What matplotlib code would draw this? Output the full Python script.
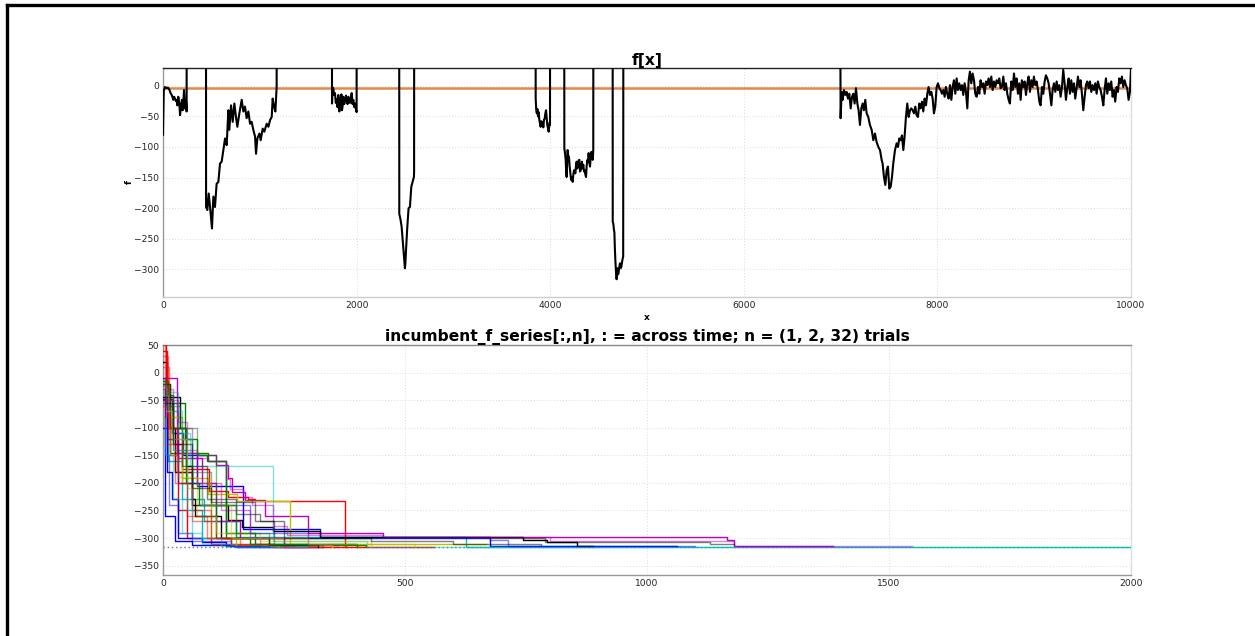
import numpy as np
import matplotlib
matplotlib.use("Agg")
import matplotlib.pyplot as plt
from matplotlib.lines import Line2D

# ---------------------------------------------------------------- data
# f[x] sampled along x; 200 marks the out-of-domain stretches (above the view)
f_valley_a = [(0, -80), (8, -8), (21, -2), (38, -4), (50, -3), (65, -6), (78, -12),
              (90, -15), (100, -20), (107, -23), (115, -18), (124, -21), (133, -25),
              (141, -23), (148, -32), (158, -18), (169, -29), (176, -48), (186, -34),
              (196, -23), (203, -40), (210, -28), (217, -7), (227, -37), (238, -26),
              (244, -42), (245, 200)]
f_valley_b = [(444, 200), (445, -198), (458, -203), (472, -176), (486, -198), (506, -233),
              (520, -181), (537, -198), (554, -160), (572, -157), (589, -127), (606, -124),
              (623, -105), (641, -86), (658, -97), (675, -40), (685, -72), (703, -32),
              (720, -59), (737, -29), (754, -51), (768, -67), (789, -45), (813, -23),
              (830, -42), (847, -34), (864, -53), (882, -42), (899, -62), (916, -59),
              (933, -72), (951, -83), (961, -111), (975, -86), (996, -78), (1009, -89),
              (1030, -70), (1047, -75), (1071, -62), (1089, -67), (1106, -56), (1123, -51),
              (1133, -21), (1147, -34), (1161, -42), (1174, -2), (1175, 200)]
f_valley_c = [(1745, 200), (1746, -29), (1752, -3), (1760, -5), (1768, -15), (1777, -12),
              (1785, -28), (1794, -22), (1803, -35), (1811, -15), (1822, -42), (1830, -20),
              (1836, -28), (1843, -14), (1849, -40), (1856, -33), (1863, -18), (1872, -30),
              (1880, -25), (1890, -16), (1898, -22), (1906, -30), (1915, -18), (1924, -25),
              (1932, -28), (1940, -22), (1949, -12), (1958, -30), (1966, -23), (1975, -35),
              (1984, -29), (1992, -38), (2000, -43), (2001, 200)]
f_valley_d = [(2440, 200), (2441, -209), (2453, -218), (2465, -230), (2482, -263),
              (2499, -298), (2504, -290), (2510, -270), (2524, -230), (2537, -200),
              (2551, -198), (2565, -165), (2579, -157), (2592, -149), (2594, -140),
              (2595, 200)]
f_valley_e = [(3849, 200), (3850, -21), (3856, -40), (3862, -45), (3868, -38), (3874, -50),
              (3880, -43), (3888, -56), (3895, -62), (3901, -67), (3908, -58), (3915, -65),
              (3922, -60), (3929, -68), (3936, -55), (3943, -54), (3950, -45), (3957, -40),
              (3964, -52), (3970, -64), (3977, -70), (3984, -75), (3990, -65), (3996, -60),
              (3998, -64), (3999, 200)]
f_valley_f = [(4145, 200), (4146, -102), (4153, -110), (4160, -121), (4165, -140),
              (4170, -149), (4175, -125), (4180, -105), (4187, -115), (4194, -116),
              (4200, -130), (4205, -138), (4212, -148), (4218, -154), (4225, -150),
              (4232, -157), (4239, -145), (4246, -138), (4253, -140), (4260, -143),
              (4266, -132), (4273, -124), (4280, -135), (4287, -129), (4294, -122),
              (4301, -121), (4308, -140), (4315, -138), (4322, -130), (4328, -124),
              (4335, -135), (4342, -129), (4349, -140), (4356, -138), (4363, -145),
              (4370, -149), (4377, -130), (4384, -121), (4390, -125), (4397, -110),
              (4404, -125), (4411, -132), (4418, -118), (4425, -108), (4432, -115),
              (4439, -121), (4445, -105), (4446, 200)]
f_valley_g = [(4645, 200), (4646, -222), (4652, -225), (4658, -235), (4663, -239),
              (4668, -265), (4673, -285), (4680, -305), (4686, -316), (4691, -306),
              (4697, -298), (4702, -308), (4707, -304), (4714, -296), (4721, -290),
              (4728, -298), (4735, -296), (4742, -288), (4749, -282), (4754, -279),
              (4756, 200)]
f_valley_h = [(6995, 200), (7000, -53), (7011, -10), (7021, -23), (7035, -7), (7049, -15),
              (7062, -10), (7076, -21), (7090, -13), (7104, -37), (7118, -18), (7131, -13),
              (7145, -29), (7159, -4), (7173, -29), (7186, -40), (7200, -64), (7214, -37),
              (7228, -29), (7241, -40), (7255, -23), (7269, -45), (7286, -51), (7303, -64),
              (7321, -72), (7338, -89), (7355, -78), (7372, -92), (7390, -100), (7407, -105),
              (7424, -121), (7434, -127), (7448, -149), (7462, -162), (7476, -138),
              (7489, -132), (7503, -168), (7517, -165), (7531, -149), (7544, -127),
              (7562, -105), (7579, -94), (7593, -100), (7606, -86), (7620, -89), (7634, -81),
              (7648, -105), (7661, -83), (7675, -51), (7689, -29), (7703, -51), (7717, -40),
              (7730, -37), (7744, -40), (7758, -45), (7772, -34), (7785, -48), (7799, -51),
              (7813, -29), (7827, -37), (7841, -26), (7854, -42), (7868, -21), (7882, -32),
              (7896, -13), (7909, -2), (7923, -15), (7937, -10), (7951, -21), (7964, -45),
              (7978, -34), (7992, -2), (8006, 4), (8020, -4), (8033, -7), (8047, -13),
              (8061, -7), (8075, -18), (8088, -2), (8102, -13), (8116, -21), (8130, 1),
              (8144, -23), (8157, -2), (8171, 9), (8185, -13), (8199, 12), (8212, -7),
              (8226, 4), (8240, -7), (8254, 1), (8267, -15), (8281, 4), (8295, -10),
              (8309, -37), (8323, 9), (8336, 23), (8350, 4), (8364, 20), (8378, 9),
              (8391, -13), (8405, -18), (8419, -2), (8433, -13), (8446, 9), (8460, -2),
              (8474, 4), (8488, -13), (8502, 7), (8515, 1), (8529, 12), (8543, -2),
              (8557, 15), (8570, -7), (8584, 7), (8598, -2), (8612, 9), (8626, 4),
              (8639, 12), (8653, -4), (8667, -2), (8681, 15), (8694, -7), (8708, 4),
              (8722, -13), (8736, -23), (8749, -29), (8763, 7), (8777, -7), (8791, 20),
              (8805, -2), (8818, 12), (8832, -13), (8846, 4), (8860, -23), (8873, 9),
              (8887, -2), (8901, 7), (8915, -15), (8929, 4), (8942, 15), (8956, -10),
              (8970, 9), (8984, -2), (8997, 15), (9011, 1), (9025, 7), (9039, -7),
              (9053, -26), (9066, -32), (9080, -2), (9094, -13), (9108, 7), (9121, 17),
              (9135, 12), (9149, 4), (9163, -13), (9177, -32), (9190, -7), (9204, 4),
              (9218, -10), (9232, 7), (9245, -7), (9259, 1), (9273, -18), (9287, -2),
              (9300, 26), (9314, 4), (9328, -23), (9342, -2), (9356, 12), (9369, -13),
              (9383, 9), (9397, -10), (9411, 4), (9424, -21), (9438, -4), (9452, 15),
              (9466, -2), (9479, 9), (9493, -13), (9507, -40), (9521, -18), (9535, 1),
              (9548, 7), (9562, -4), (9576, 7), (9590, -10), (9603, 1), (9617, -7),
              (9631, 4), (9645, -13), (9658, 7), (9672, -2), (9686, -7), (9700, -18),
              (9714, -32), (9727, -7), (9741, 12), (9755, -13), (9769, 4), (9782, -7),
              (9796, 7), (9810, -18), (9824, -7), (9837, -26), (9851, -2), (9865, -10),
              (9879, 12), (9892, 4), (9906, 15), (9920, -2), (9934, 9), (9947, 1),
              (9961, -4), (9975, -23), (9989, -10), (10000, 28)]
f_reference_level = -3
f_global_min = -316

# incumbent (best-so-far) f for each trial: (time, value) change points
incumbent_trials = [
    [(0, -48), (18, -110), (42, -150), (70, -205), (166, -283), (324, -298), (676, -315), (1061, -315)],
    [(0, -20), (14, -146), (94, -160), (131, -291), (190, -310), (400, -316)],
    [(0, 60), (6, -60), (20, -130), (40, -175), (95, -215), (135, -226), (175, -230), (190, -232), (376, -316), (560, -316)],
    [(0, -100), (10, -160), (40, -230), (85, -270), (150, -298), (626, -316), (2000, -316)],
    [(0, -10), (28, -146), (73, -150), (110, -167), (135, -191), (143, -216), (170, -231), (210, -260), (300, -290), (455, -298), (1165, -304), (1180, -315), (1385, -315)],
    [(0, -80), (40, -191), (94, -220), (152, -232), (262, -310), (667, -310)],
    [(0, 20), (8, -100), (25, -180), (60, -240), (135, -268), (163, -280), (228, -288), (324, -298), (744, -304), (793, -307), (855, -314), (889, -314)],
    [(0, -30), (5, -260), (25, -305), (60, -312), (150, -316), (330, -316)],
    [(0, -50), (20, -55), (45, -120), (70, -150), (90, -160), (130, -300), (250, -312), (420, -316)],
    [(0, 40), (8, -80), (15, -150), (30, -250), (50, -300), (100, -310), (230, -316), (380, -316)],
    [(0, -20), (6, -45), (20, -140), (50, -250), (80, -300), (140, -312), (260, -316)],
    [(0, -60), (10, -100), (30, -155), (80, -200), (110, -270), (160, -300), (250, -316), (300, -316)],
    [(0, -30), (12, -100), (40, -200), (100, -300), (150, -312), (350, -316)],
    [(0, -45), (25, -45), (36, -100), (48, -170), (60, -230), (66, -260), (120, -300), (220, -313), (320, -316)],
    [(0, -100), (8, -180), (18, -230), (30, -300), (80, -308), (130, -314), (200, -316)],
    [(0, -15), (10, -40), (20, -100), (48, -200), (75, -240), (110, -300), (180, -310), (300, -315)],
    [(0, 30), (10, -120), (30, -200), (60, -270), (110, -300), (200, -314)],
    [(0, -35), (31, -110), (56, -169), (227, -306), (421, -316), (900, -316)],
    [(0, -30), (20, -100), (59, -154), (94, -160), (131, -193), (138, -211), (166, -225), (183, -240), (228, -279), (256, -294), (455, -298), (800, -305), (1180, -315), (1547, -315)],
    [(0, -60), (15, -150), (30, -190), (70, -260), (110, -290), (200, -305), (430, -316)],
    [(0, -20), (15, -100), (40, -170), (90, -230), (150, -256), (200, -270), (230, -300), (790, -307), (1130, -311), (1180, -311)],
    [(0, -50), (8, -120), (30, -200), (80, -240), (180, -290), (300, -300), (676, -304), (713, -315), (1099, -315)],
    [(0, -25), (12, -70), (30, -120), (60, -180), (100, -240), (150, -300), (230, -312), (330, -316)],
    [(0, 10), (12, -100), (28, -180), (60, -250), (100, -300), (160, -314), (270, -316)],
    [(0, -40), (10, -70), (40, -120), (60, -300), (120, -314), (240, -316)],
    [(0, -50), (30, -90), (50, -140), (70, -200), (120, -250), (180, -300), (300, -313), (360, -316)],
    [(0, -70), (18, -120), (50, -210), (80, -240), (140, -300), (300, -311), (520, -316)],
    [(0, -55), (20, -130), (60, -210), (100, -235), (190, -270), (250, -300), (430, -305), (600, -310), (780, -313)],
    [(0, -10), (4, -150), (12, -240), (30, -290), (60, -305), (140, -315), (220, -316)],
    [(0, -15), (6, -60), (35, -100), (70, -150), (110, -240), (150, -290), (220, -310), (400, -316)],
    [(0, 50), (5, -130), (25, -200), (50, -260), (90, -300), (140, -312), (230, -316)],
    [(0, -80), (5, -150), (20, -230), (40, -290), (80, -310), (150, -316), (300, -316)],
]
trial_colors = ['#0000ff', '#008000', '#ff0000', '#00bfbf', '#bf00bf', '#bfbf00', '#000000']

top_title = "f[x]"
bottom_title = "incumbent_f_series[:,n], : = across time; n = (1, 2, 32) trials"
x_ticks_top = [0, 2000, 4000, 6000, 8000, 10000]
y_ticks_top = [0, -50, -100, -150, -200, -250, -300]
x_ticks_bottom = [0, 500, 1000, 1500, 2000]
y_ticks_bottom = [50, 0, -50, -100, -150, -200, -250, -300, -350]

# ---------------------------------------------------------------- figure
fig = plt.figure(figsize=(12.55, 6.36), dpi=100)
fig.patch.set_facecolor('white')

# frame around the page (left and top edges)
fig.add_artist(Line2D([7 / 1255, 7 / 1255], [0, 1 - 5 / 636], transform=fig.transFigure,
                      color='black', lw=2.4, solid_capstyle='projecting'))
fig.add_artist(Line2D([7 / 1255, 1], [1 - 5 / 636, 1 - 5 / 636], transform=fig.transFigure,
                      color='black', lw=2.4, solid_capstyle='projecting'))

tick_kw = dict(labelsize=6.6, length=0, pad=3, labelcolor='#222222')
grid_kw = dict(color='#cfcfcf', linestyle=(0, (1, 2.5)), linewidth=0.6)


def style_axes(ax, top_col):
    for side, col in (('top', top_col), ('left', '#999999'),
                      ('bottom', '#cccccc'), ('right', '#dddddd')):
        ax.spines[side].set_color(col)
        ax.spines[side].set_linewidth(1.0)
    ax.tick_params(**tick_kw)
    ax.grid(True, **grid_kw)
    ax.set_axisbelow(True)


# top panel: f[x]
ax1 = fig.add_axes([163 / 1255, 1 - 297 / 636, 968 / 1255, 229 / 636])
segments = [f_valley_a, f_valley_b, f_valley_c, f_valley_d,
            f_valley_e, f_valley_f, f_valley_g, f_valley_h]
pts = [p for seg in segments for p in seg]
fx = np.array([p[0] for p in pts], dtype=float)
fy = np.array([p[1] for p in pts], dtype=float)
ax1.axhline(f_reference_level, color='#e0894a', lw=1.8, zorder=2)
ax1.plot(fx, fy, color='black', lw=1.5, zorder=3)
ax1.set_xlim(0, 10000)
ax1.set_ylim(-345, 29)
ax1.set_xticks(x_ticks_top)
ax1.set_yticks(y_ticks_top)
ax1.set_title(top_title, fontsize=11.2, fontweight='bold', pad=1)
ax1.set_xlabel('x', fontsize=6.5, fontweight='bold', labelpad=2)
ax1.set_ylabel('f', fontsize=6.5, fontweight='bold', labelpad=0)
style_axes(ax1, '#222222')

# bottom panel: incumbent series over time
ax2 = fig.add_axes([163 / 1255, 1 - 575 / 636, 968 / 1255, 230 / 636])
for i, trial in enumerate(incumbent_trials):
    t = [p[0] for p in trial]
    v = [p[1] for p in trial]
    ax2.plot(t, v, drawstyle='steps-post', color=trial_colors[i % 7],
             lw=1.0, alpha=1.0 if i < 16 else 0.5, zorder=3)
ax2.axhline(f_global_min, color='#777777', ls=(0, (1, 2)), lw=1.0, zorder=2)
ax2.set_xlim(0, 2000)
ax2.set_ylim(-367, 50)
ax2.set_xticks(x_ticks_bottom)
ax2.set_yticks(y_ticks_bottom)
ax2.set_title(bottom_title, fontsize=11.2, fontweight='bold', pad=1)
style_axes(ax2, '#888888')
ax2.spines['bottom'].set_color('#999999')

fig.savefig('out.png', dpi=100)
